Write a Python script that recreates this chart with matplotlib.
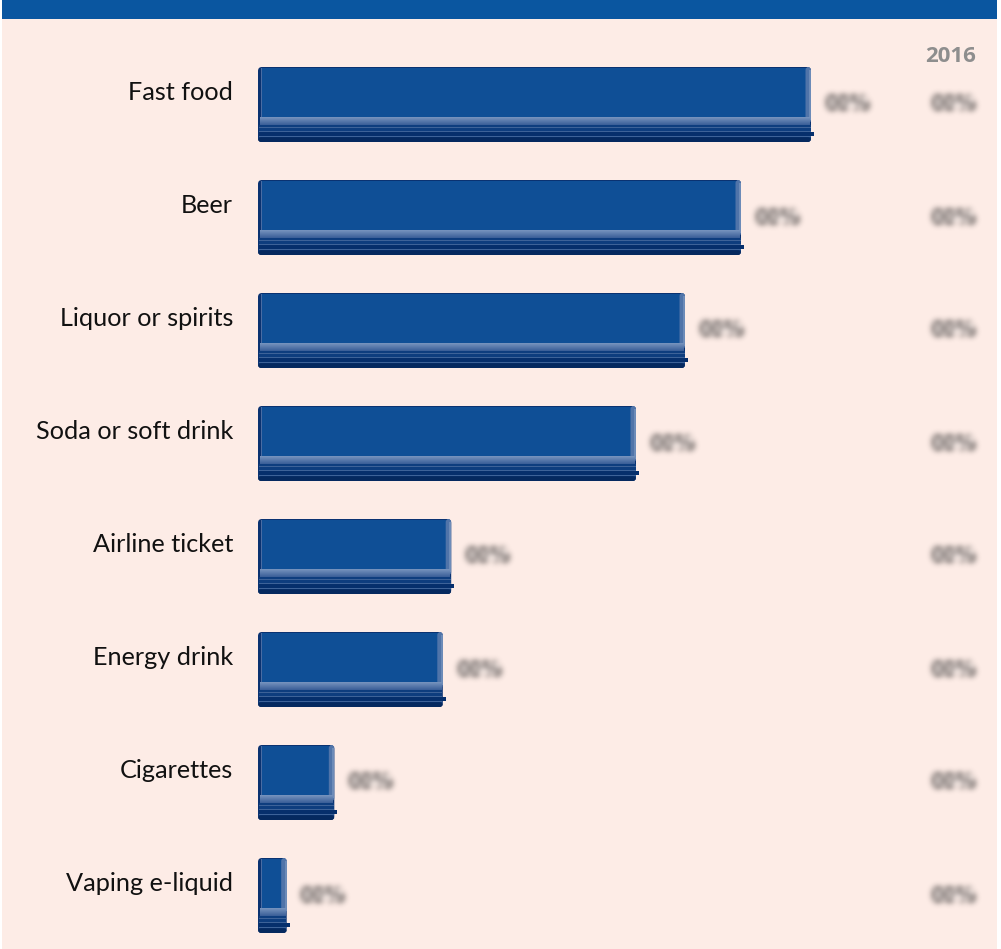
import numpy as np
import matplotlib
matplotlib.use("Agg")
import matplotlib.pyplot as plt
from matplotlib.patches import Rectangle, FancyBboxPatch

# ---- data -------------------------------------------------------------
categories = ["Fast food", "Beer", "Liquor or spirits", "Soda or soft drink",
              "Airline ticket", "Energy drink", "Cigarettes", "Vaping e-liquid"]
values = [79, 69, 61, 54, 27.6, 26.4, 10.9, 4.1]
value_labels = ["00%"] * len(categories)
year_labels = ["00%"] * len(categories)
column_header = "2016"

# ---- styling ------------------------------------------------------------
W, H, DPI = 1001, 949, 100
BG = "#FDECE6"
BAND = "#0A56A0"
FACE = "#0F4F96"
DARK = "#0A3271"
DEEP = "#05295F"
STRIPE_LINE = "#3D6298"
BEVEL = "#5074A9"
LABEL_GREY = "#7F7876"

X0 = 258          # pixel where the value axis starts
PX_PER_UNIT = 7.0 # horizontal scale
ROW_PITCH = 113.0
ROW0_CENTER = 104.5
BAR_H = 75.0

fig = plt.figure(figsize=(W / DPI, H / DPI), dpi=DPI, facecolor="white")
ax = fig.add_axes([0, 0, 1, 1])
ax.set_xlim(-X0 / PX_PER_UNIT, (W - X0) / PX_PER_UNIT)
ax.set_ylim((H - ROW0_CENTER) / ROW_PITCH, -ROW0_CENTER / ROW_PITCH)
ax.axis("off")

px = 1.0 / PX_PER_UNIT   # one pixel in x data units
py = 1.0 / ROW_PITCH     # one pixel in y data units

# page background and title band
ax.add_patch(Rectangle((-X0 * px + 2 * px, -ROW0_CENTER * py), 995 * px, H * py,
                       facecolor=BG, edgecolor="none", zorder=0))
ax.add_patch(Rectangle((-X0 * px + 2 * px, -ROW0_CENTER * py), 995 * px, 19 * py,
                       facecolor=BAND, edgecolor="none", zorder=1))


def blur(sigma_px):
    """Gaussian blur agg filter."""
    def _f(im, dpi):
        pad = int(3 * sigma_px) + 1
        img = np.pad(im, ((pad, pad), (pad, pad), (0, 0)))
        r = np.arange(-pad, pad + 1)
        k = np.exp(-0.5 * (r / sigma_px) ** 2)
        k /= k.sum()
        out = np.zeros_like(img)
        for w, s in zip(k, r):
            out += w * np.roll(img, s, axis=0)
        img = out
        out = np.zeros_like(img)
        for w, s in zip(k, r):
            out += w * np.roll(img, s, axis=1)
        return out, -pad, -pad
    return _f


def mix(c1, c2, t):
    a = np.array(matplotlib.colors.to_rgb(c1))
    b = np.array(matplotlib.colors.to_rgb(c2))
    return tuple(a + (b - a) * t)


# bar extents come straight from barh; the bevelled look is layered on top
top_off = -BAR_H / 2 * py
bars = ax.barh(np.arange(len(categories)), values, height=BAR_H * py,
               color=DARK, edgecolor="none", zorder=2)
for b in bars:
    b.set_visible(False)

label_font = dict(fontsize=15, fontweight="heavy",
                  family=["Open Sans", "DejaVu Sans"], color=LABEL_GREY, zorder=6)

for i, (cat, v) in enumerate(zip(categories, values)):
    top = i + top_off
    # rounded dark body
    body = FancyBboxPatch((0, top), v, BAR_H * py,
                          boxstyle=f"round,pad=0,rounding_size={4 * px}",
                          mutation_aspect=py / px,
                          facecolor=DARK, edgecolor="none", zorder=2)
    ax.add_patch(body)
    # front face
    ax.add_patch(Rectangle((3 * px, top + 1 * py), v - 8 * px, 49 * py,
                           facecolor=FACE, edgecolor="none", zorder=3))
    # left highlight line
    ax.add_patch(Rectangle((3 * px, top + 1 * py), 1.2 * px, 49 * py,
                           facecolor="#4A6CA2", edgecolor="none", zorder=4))
    # right bevel
    ax.add_patch(FancyBboxPatch((v - 5.5 * px, top), 5.5 * px, 56 * py,
                                boxstyle=f"round,pad=0,rounding_size={3 * px}",
                                mutation_aspect=py / px,
                                facecolor=BEVEL, edgecolor="none", zorder=3))
    ax.add_patch(Rectangle((v - 2 * px, top + 3 * py), 2 * px, 50 * py,
                           facecolor="#6C8BB8", edgecolor="none", zorder=3))
    # light band under the face (gradient)
    for k in range(8):
        c = mix("#7491BC", "#3C6099", k / 7)
        ax.add_patch(Rectangle((1.5 * px, top + (50 + k) * py), v - 2.5 * px, 1 * py,
                               facecolor=c, edgecolor="none", zorder=4))
    # stripes
    ax.add_patch(Rectangle((0.5 * px, top + 58 * py), v - 1 * px, 13 * py,
                           facecolor="#0E3D7E", edgecolor="none", zorder=4))
    for yy in (59.5, 63.5, 69):
        ax.add_patch(Rectangle((0.5 * px, top + yy * py), v - 1 * px, 1.2 * py,
                               facecolor=STRIPE_LINE, edgecolor="none", zorder=5))
    ax.add_patch(Rectangle((0.5 * px, top + 64.7 * py), v + 2.5 * px, 4 * py,
                           facecolor="#062F6C", edgecolor="none", zorder=5))
    ax.add_patch(FancyBboxPatch((0, top + 70.2 * py), v, 4.8 * py,
                                boxstyle=f"round,pad=0,rounding_size={3 * px}",
                                mutation_aspect=py / px,
                                facecolor=DEEP, edgecolor="none", zorder=5))

    # category label
    ax.text(-25 * px, top + 33 * py, cat, ha="right", va="baseline",
            fontsize=18.2, family=["Lato", "DejaVu Sans"], color="#111111",
            zorder=6)

    # blurred value labels
    t1 = ax.text(v + 14 * px, i + 0.5 * py, value_labels[i], ha="left",
                 va="center", **label_font)
    t1.set_agg_filter(blur(3.0))
    t2 = ax.text(953 * px - X0 * px, i + 0.5 * py, year_labels[i], ha="center",
                 va="center", **label_font)
    t2.set_agg_filter(blur(3.0))

ax.text(951 * px - X0 * px, (56 - ROW0_CENTER) * py, column_header, ha="center",
        va="center", fontsize=16, fontweight="bold",
        family=["Open Sans", "DejaVu Sans"], color="#8E8E8E", zorder=6)

fig.savefig("out.png", dpi=DPI, facecolor="white")
